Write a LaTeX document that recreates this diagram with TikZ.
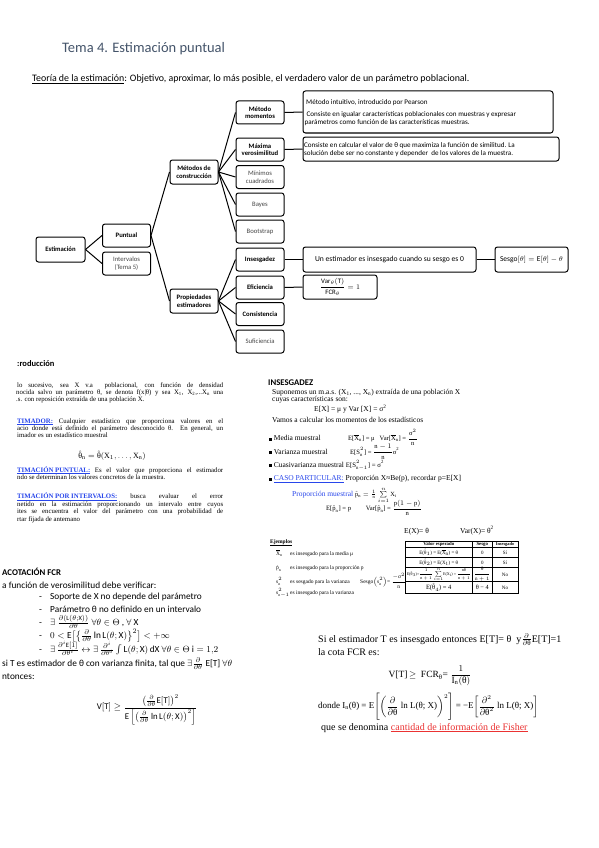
\documentclass[tikz,border=0pt]{standalone}
\usepackage{amsmath,amssymb}
\usepackage{graphicx}
\usepackage{fontspec}
\setmainfont{Carlito}
\newfontfamily\tnr{Liberation Serif}
\definecolor{ttl}{RGB}{68,84,106}
\definecolor{lnk}{RGB}{40,70,235}
\definecolor{fred}{RGB}{235,50,50}
\definecolor{gtx}{RGB}{70,70,70}
\newcommand{\myfs}[1]{\fontsize{#1}{#1}\selectfont}
\newcommand{\jl}[2]{\makebox[#1][s]{#2}}
\newcommand{\sq}{\rule{2.8pt}{2.8pt}}
\newcommand{\tx}[1]{\text{#1}}
\begin{document}
\begin{tikzpicture}[x=1pt,y=-1pt,
  tbox/.style={draw,line width=1pt,rounded corners=2.5pt,align=center,inner sep=0.5pt,font=\fontsize{6.7}{7.6}\selectfont,minimum width=48pt,minimum height=23pt},
  dbox/.style={draw,line width=1pt,rounded corners=2.5pt,inner sep=0pt},
  conn/.style={line width=1pt},
  lt/.style={anchor=base west,inner sep=0pt},
  dt/.style={lt,font=\myfs{7.1}},
  it/.style={lt,font=\tnr\myfs{6.8}},
  st/.style={lt,font=\tnr\myfs{7.5}},
  et/.style={lt,font=\tnr\myfs{5.5}},
  ct/.style={inner sep=0pt,font=\tnr\myfs{5}},
  ll/.style={lt,font=\myfs{9.3}},
  rt/.style={lt,font=\tnr\myfs{10}}]
\clip (0,0) rectangle (599,848);
\fill[white] (0,0) rectangle (599,848);
% ---------- heading
\node[lt,font=\myfs{14.5},text=ttl] (title) at (62,52.5) {Tema 4. Estimación puntual};
\node[lt,font=\myfs{9.9}] (teoria) at (32,81.5) {\underline{Teoría de la estimación}: Objetivo, aproximar, lo más posible, el verdadero valor de un parámetro poblacional.};
% ---------- tree
\node[tbox,minimum width=49pt,minimum height=25pt] (est) at (60.5,249.5) {\textbf{Estimación}};
\node[tbox] (punt) at (126.5,235.5) {\textbf{Puntual}};
\node[tbox,text=gtx] (inter) at (126.5,263.5) {Intervalos\\(Tema 5)};
\node[tbox,minimum height=24pt] (met) at (194,172) {\textbf{Métodos de}\\\textbf{construcción}};
\node[tbox,minimum height=24pt] (prop) at (194,301) {\textbf{Propiedades}\\\textbf{estimadores}};
\node[tbox] (mom) at (260,112.5) {\textbf{Método}\\\textbf{momentos}};
\node[tbox] (maxv) at (260,149.5) {\textbf{Máxima}\\\textbf{verosimilitud}};
\node[tbox,text=gtx] (minc) at (260,177) {Mínimos\\cuadrados};
\node[tbox,text=gtx] (bay) at (260,204.5) {Bayes};
\node[tbox,text=gtx] (boot) at (260,231.5) {Bootstrap};
\node[tbox] (ins) at (260,259.5) {\textbf{Insesgadez}};
\node[tbox] (efi) at (260,287.5) {\textbf{Eficiencia}};
\node[tbox] (cons) at (260,314) {\textbf{Consistencia}};
\node[tbox,text=gtx] (suf) at (260,341.5) {Suficiencia};
% description boxes
\node[dbox,minimum width=250pt,minimum height=42pt] (momd) at (428,112) {};
\node[dt] (momd1) at (306,105) {Método intuitivo, introducido por Pearson};
\node[dt] (momd2) at (306.5,116.5) {Consiste en igualar características poblacionales con muestras y expresar};
\node[dt] (momd3) at (304.5,124.5) {parámetros como función de las características muestras.};
\node[dbox,minimum width=256pt,minimum height=24pt] (maxd) at (431,149) {};
\node[dt] (maxd1) at (304,147) {Consiste en calcular el valor de θ que maximiza la función de similitud. La};
\node[dt] (maxd2) at (304,155.5) {solución debe ser no constante y depender \ de los valores de la muestra.};
\node[dbox,minimum width=173pt,minimum height=25pt,font=\myfs{7.6}] (insd) at (389.5,259.5) {Un estimador es insesgado cuando su sesgo es 0};
\node[dbox,minimum width=73pt,minimum height=25pt,font=\myfs{7.5}] (sesg) at (531.5,259.5) {$\mathrm{Sesgo}[\theta]=\mathrm{E}[\theta]-\theta$};
\node[dbox,minimum width=74pt,minimum height=24pt,font=\myfs{6.8}] (efid) at (340,287) {$\dfrac{\mathrm{Var}_\theta(\mathrm{T})}{\mathrm{FCR}_\theta}=1$};
% connectors
\draw[conn] (est.east) -- (punt.west);
\draw[conn] (est.east) -- (inter.west);
\draw[conn] (punt.east) -- (met.west);
\draw[conn] (punt.east) -- (prop.west);
\foreach \c in {mom,maxv,minc,bay,boot} \draw[conn] (met.east) -- (\c.west);
\foreach \c in {ins,efi,cons,suf} \draw[conn] (prop.east) -- (\c.west);
\draw[conn] (mom.east) -- (momd.west);
\draw[conn] (maxv.east) -- (maxd.west);
\draw[conn] (ins.east) -- (insd.west);
\draw[conn] (efi.east) -- (efid.west);
\draw[conn] (insd.east) -- (sesg.west);
% ---------- introduccion
\node[lt,font=\bfseries\myfs{8.5}] (intro) at (17,366.5) {:roducción};
\node[it] (i1) at (17,387) {\jl{206pt}{lo sucesivo, sea X v.a \ poblacional, con función de densidad}};
\node[it] (i2) at (16,394) {\jl{207pt}{nocida salvo un parámetro θ, se denota f(x|θ) y sea X\textsubscript{1}, X\textsubscript{2},...X\textsubscript{n} una}};
\node[it] (i3) at (16,401) {.s. con reposición extraída de una población X.};
\node[it] (i4) at (17,423) {\jl{206pt}{\textcolor{lnk}{\textbf{\underline{TIMADOR:}}} Cualquier estadístico que proporciona valores en el}};
\node[it] (i5) at (17,430) {\jl{206pt}{acio donde está definido el parámetro desconocido θ. En general, un}};
\node[it] (i6) at (17,437) {imador es un estadístico muestral};
\node[inner sep=0pt,font=\tnr\myfs{8}] (fest) at (112,455.5) {$\hat{\tx{θ}}_{\tx{n}}=\hat{\tx{θ}}(\tx{X}_1,\ldots,\tx{X}_{\tx{n}})$};
\node[it] (i7) at (17,472) {\jl{206pt}{\textcolor{lnk}{\textbf{\underline{TIMACIÓN PUNTUAL:}}} Es el valor que proporciona el estimador}};
\node[it] (i8) at (17,479.5) {ndo se determinan los valores concretos de la muestra.};
\node[it] (i9) at (17,498.5) {\jl{206pt}{\textcolor{lnk}{\textbf{\underline{TIMACIÓN POR INTERVALOS:}}} busca evaluar el error}};
\node[it] (i10) at (17,506) {\jl{206pt}{netido en la estimación proporcionando un intervalo entre cuyos}};
\node[it] (i11) at (17,513.5) {\jl{206pt}{ites se encuentra el valor del parámetro con una probabilidad de}};
\node[it] (i12) at (17,521) {rtar fijada de antemano};
% ---------- insesgadez
\node[lt,font=\bfseries\myfs{8.7}] (insh) at (268,385) {INSESGADEZ};
\node[st] (s1) at (272,394) {Suponemos un m.a.s. (X\textsubscript{1}, ..., X\textsubscript{n}) extraída de una población X};
\node[st] (s2) at (272,401) {cuyas características son:};
\node[st] (s3) at (314,411.5) {E[X] = μ y Var [X] = σ\textsuperscript{2}};
\node[st] (s4) at (272,422) {Vamos a calcular los momentos de los estadísticos};
\node[st] (s5) at (269,440.5) {\sq\ Media muestral};
\node[st,font=\tnr\myfs{6.6}] (s5f) at (348,440.5) {E[$\overline{\tx{X}}_{\tx{n}}$] = μ \ \ Var[$\overline{\tx{X}}_{\tx{n}}$] = $\dfrac{\tx{σ}^2}{\tx{n}}$};
\node[st] (s6) at (269,454) {\sq\ Varianza muestral};
\node[st,font=\tnr\myfs{6.6}] (s6f) at (350,454) {E[S$^2_{\tx{n}}$] = $\dfrac{\tx{n}-1}{\tx{n}}$σ\textsuperscript{2}};
\node[st] (s7) at (269,467) {\sq\ Cuasivarianza muestral {\myfs{6.8}E[S$^2_{\tx{n}-1}$] = σ\textsuperscript{2}}};
\node[st] (s8) at (269,480.5) {\sq\ \textcolor{lnk}{\underline{CASO PARTICULAR:}} Proporción X≈Be(p), recordar p=E[X]};
\node[st] (s9) at (292,496) {\textcolor{lnk}{Proporción muestral} {\myfs{6.3}$\hat{\tx{p}}_{\tx{n}}=\frac{1}{\tx{n}}\sum\limits_{i=1}^{n}\tx{X}_{\tx{i}}$}};
\node[st,font=\tnr\myfs{6.6}] (s10) at (326,510.5) {E[$\hat{\tx{p}}_{\tx{n}}$] = p \qquad Var[$\hat{\tx{p}}_{\tx{n}}$] = $\dfrac{\tx{p}(1-\tx{p})}{\tx{n}}$};
\node[st] (ex) at (404,533) {E(X)= θ};
\node[st] (vx) at (460,533) {Var(X)= θ\textsuperscript{2}};
\node[et] (ejem) at (270,543.5) {\textbf{\underline{Ejemplos}}};
\node[et] (e1s) at (276,555) {$\overline{\tx{X}}_{\tx{n}}$};
\node[et] (e1) at (290,555) {es insesgado para la media μ};
\node[et] (e2s) at (276,569.5) {$\hat{\tx{p}}_{\tx{n}}$};
\node[et] (e2) at (290,569.5) {es insesgado para la proporción p};
\node[et] (e3s) at (276,583) {s$^2_{\tx{n}}$};
\node[et] (e3) at (290,583) {es sesgado para la varianza};
\node[et] (e3f) at (360,583) {Sesgo$\left(\tx{s}_{\tx{n}}^2\right)$= $\dfrac{-\tx{σ}^2}{\tx{n}}$};
\node[et] (e4s) at (276,594) {s$^2_{\tx{n}-1}$};
\node[et] (e4) at (290,594) {es insesgado para la varianza};
% table
\draw[line width=0.6pt] (405,541) rectangle (518,593);
\draw[line width=0.6pt] (472.5,541) -- (472.5,593) (492,541) -- (492,593);
\draw[line width=0.5pt] (405,547.5) -- (518,547.5) (405,557.5) -- (518,557.5) (405,567.5) -- (518,567.5);
\draw[line width=1.2pt] (405,581.5) -- (518,581.5);
\node[ct,font=\tnr\bfseries\myfs{4.8}] (h1) at (438.75,544.3) {Valor esperado};
\node[ct,font=\tnr\bfseries\myfs{4.8}] (h2) at (482.25,544.3) {Sesgo};
\node[ct,font=\tnr\bfseries\myfs{4.3}] (h3) at (505,544.3) {Insesgado};
\node[ct] (r1a) at (438.75,552.5) {E($\hat{\tx{θ}}_1$) = E($\overline{\tx{X}}_{\tx{n}}$) = θ};
\node[ct] (r1b) at (482.25,552.5) {0};
\node[ct] (r1c) at (505,552.5) {Sí};
\node[ct] (r2a) at (438.75,562.5) {E($\hat{\tx{θ}}_2$) = E(X\textsubscript{1}) = θ};
\node[ct] (r2b) at (482.25,562.5) {0};
\node[ct] (r2c) at (505,562.5) {Sí};
\node[ct] (r3a) at (438.75,574.5) {\resizebox{64pt}{!}{E($\hat{\tx{θ}}_3$)=$\dfrac{1}{\tx{n}+1}\displaystyle\sum_{i=1}^{n}$E(X\textsubscript{i}) = $\dfrac{\tx{nθ}}{\tx{n}+1}$}};
\node[ct] (r3b) at (482.25,574.5) {$\dfrac{\tx{θ}}{\tx{n}+1}$};
\node[ct] (r3c) at (505,574.5) {No};
\node[ct,font=\tnr\myfs{6.5}] (r4a) at (438.75,587.5) {E($\hat{\tx{θ}}_4$) = 4};
\node[ct,font=\tnr\myfs{6.3}] (r4b) at (482.25,587.5) {θ − 4};
\node[ct] (r4c) at (505,587.5) {No};
% ---------- acotacion FCR
\node[lt,font=\bfseries\myfs{8.8}] (acot) at (2,575) {ACOTACIÓN FCR};
\node[ll] (lf) at (2,588.5) {a función de verosimilitud debe verificar:};
\foreach \n/\yy in {1/599,2/612,3/625,4/638.5,5/652} \node[ll] (d\n) at (39,\yy) {-};
\node[ll] (b1) at (50,599) {Soporte de X no depende del parámetro};
\node[ll] (b2) at (50,612) {Parámetro θ no definido en un intervalo};
\node[ll] (b3) at (50,625) {$\exists\ \tfrac{\partial(\mathrm{L}(\theta;\mathrm{X}))}{\partial\theta}\ \forall\theta\in\Theta$ , $\forall$ X};
\node[ll] (b4) at (50,638.5) {$0<\mathrm{E}\bigl[\bigl\{\tfrac{\partial}{\partial\theta}\ln\mathrm{L}(\theta;\mathrm{X})\bigr\}^2\bigr]<+\infty$};
\node[ll] (b5) at (50,652) {$\exists\,\tfrac{\partial^i\mathrm{E}[1]}{\partial\theta^i}\leftrightarrow\exists\,\tfrac{\partial^i}{\partial\theta^i}\textstyle\int\mathrm{L}(\theta;\mathrm{X})\,\mathrm{dX}\ \forall\theta\in\Theta\ \mathrm{i}=1{,}2$};
\node[ll] (b6) at (2,666) {si T es estimador de θ con varianza finita, tal que $\exists\tfrac{\partial}{\partial\theta}$ E[T] $\forall\theta$};
\node[ll] (b7) at (2,679) {ntonces:};
\node[inner sep=0pt,font=\myfs{8.8}] (vt) at (147,709.5) {$\mathrm{V[T]}\geq\dfrac{\left(\frac{\partial}{\partial\theta}\mathrm{E[T]}\right)^2}{\mathrm{E}\left[\left(\frac{\partial}{\partial\theta}\ln\mathrm{L}(\theta;\mathrm{X})\right)^2\right]}$};
% ---------- right lower
\node[rt] (r1) at (318,642) {Si el estimador T es insesgado entonces E[T]= θ \ y$\frac{\partial}{\partial\tx{θ}}$E[T]=1};
\node[rt] (r2) at (318,655) {la cota FCR es:};
\node[inner sep=0pt,font=\tnr\myfs{9.5}] (r3) at (430,676) {V[T]$\,\geq$ \ FCR$_{\tx{θ}}$= $\dfrac{1}{\tx{I}_{\tx{n}}(\tx{θ})}$};
\node[anchor=west,inner sep=0pt,font=\tnr\myfs{9}] (r4) at (318,706.7) {donde I$_{\tx{n}}$(θ) = E$\left[\left(\dfrac{\partial}{\partial\tx{θ}}\ \tx{ln L(θ; X)}\right)^2\right]$ = −E$\left[\dfrac{\partial^2}{\partial\tx{θ}^2}\ \tx{ln L(θ; X)}\right]$};
\node[rt] (r5) at (321,730) {que se denomina \textcolor{fred}{\underline{cantidad de información de Fisher}}};
\end{tikzpicture}
\end{document}
